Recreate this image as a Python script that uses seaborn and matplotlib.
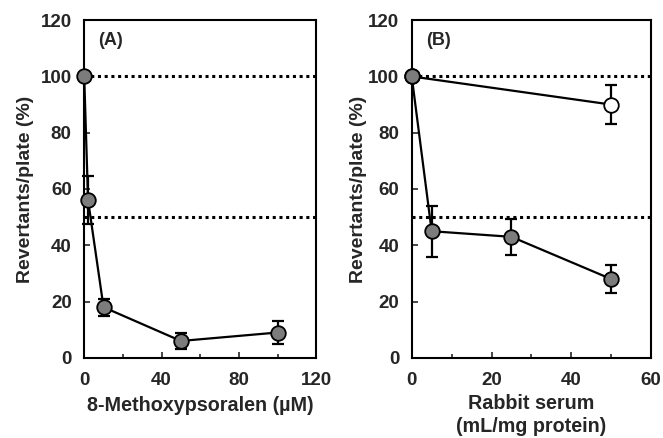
import matplotlib
matplotlib.use("Agg")
import matplotlib.pyplot as plt
from matplotlib.ticker import MultipleLocator
import seaborn as sns
import pandas as pd

# Panel A: 8-methoxypsoralen inhibition
mop_conc = [0, 2, 10, 50, 100]
mop_rev = [100, 56, 18, 6, 9]
mop_err = [0, 8.5, 3, 3, 4]

# Panel B: rabbit serum, filled series
serum_conc = [0, 5, 25, 50]
serum_rev = [100, 45, 43, 28]
serum_err = [0, 9, 6.5, 5]

# Panel B: open-circle series
ctrl_conc = [0, 50]
ctrl_rev = [100, 90]
ctrl_err = [0, 7]

sns.set_theme(style="ticks")
plt.rcParams["font.family"] = ["Liberation Sans", "DejaVu Sans"]
plt.rcParams["font.weight"] = "bold"
plt.rcParams["axes.labelweight"] = "bold"

fig = plt.figure(figsize=(6.63, 4.38), dpi=100)
fig.patch.set_facecolor("white")
axA = fig.add_axes([0.127, 0.183, 0.350, 0.771])
axB = fig.add_axes([0.621, 0.183, 0.361, 0.771])


def draw_series(ax, x, y, err, face):
    df = pd.DataFrame({"x": x, "y": y})
    eb = ax.errorbar(x, y, yerr=err, fmt="none", ecolor="black",
                     elinewidth=1.6, capsize=4.5, capthick=1.6, zorder=3)
    for art in eb.lines[1] + eb.lines[2]:
        art.set_clip_on(False)
    sns.lineplot(data=df, x="x", y="y", ax=ax, color="black", linewidth=1.6,
                 marker="o", markersize=10.5, markerfacecolor=face,
                 markeredgecolor="black", markeredgewidth=1.3, zorder=4,
                 legend=False, clip_on=False)


def style_axes(ax, xmax, xmajor, xminor, xlabel, tag, xpad, ypad):
    for yv in (100, 50):
        ax.axhline(yv, color="black", linestyle=(0, (1, 1.2)), linewidth=2.2,
                   zorder=1)
    ax.set_xlim(0, xmax)
    ax.set_ylim(0, 120)
    ax.xaxis.set_major_locator(MultipleLocator(xmajor))
    ax.xaxis.set_minor_locator(MultipleLocator(xminor))
    ax.yaxis.set_major_locator(MultipleLocator(20))
    ax.tick_params(which="both", direction="in", width=1.2)
    ax.tick_params(which="major", length=4, labelsize=13.5)
    ax.tick_params(axis="x", which="major", pad=10)
    ax.tick_params(axis="y", which="major", pad=9)
    ax.tick_params(which="minor", length=3)
    for lab in ax.get_xticklabels() + ax.get_yticklabels():
        lab.set_fontweight("bold")
    for sp in ax.spines.values():
        sp.set_visible(True)
        sp.set_linewidth(1.5)
        sp.set_color("black")
    ax.set_xlabel(xlabel, fontsize=14.2, fontweight="bold", labelpad=xpad,
                  linespacing=1.25)
    ax.set_ylabel("Revertants/plate (%)", fontsize=14, fontweight="bold",
                  labelpad=ypad)
    ax.text(0.06, 0.965, tag, transform=ax.transAxes, fontsize=13,
            fontweight="bold", va="top", ha="left")


draw_series(axA, mop_conc, mop_rev, mop_err, "#7c7c7c")
style_axes(axA, 120, 40, 20, "8-Methoxypsoralen (\u00b5M)", "(A)", 5, 5)

draw_series(axB, ctrl_conc, ctrl_rev, ctrl_err, "white")
draw_series(axB, serum_conc, serum_rev, serum_err, "#7c7c7c")
style_axes(axB, 60, 20, 10, "Rabbit serum\n(mL/mg protein)", "(B)", 4, 0.5)

fig.savefig("out.png", dpi=100, facecolor="white")
